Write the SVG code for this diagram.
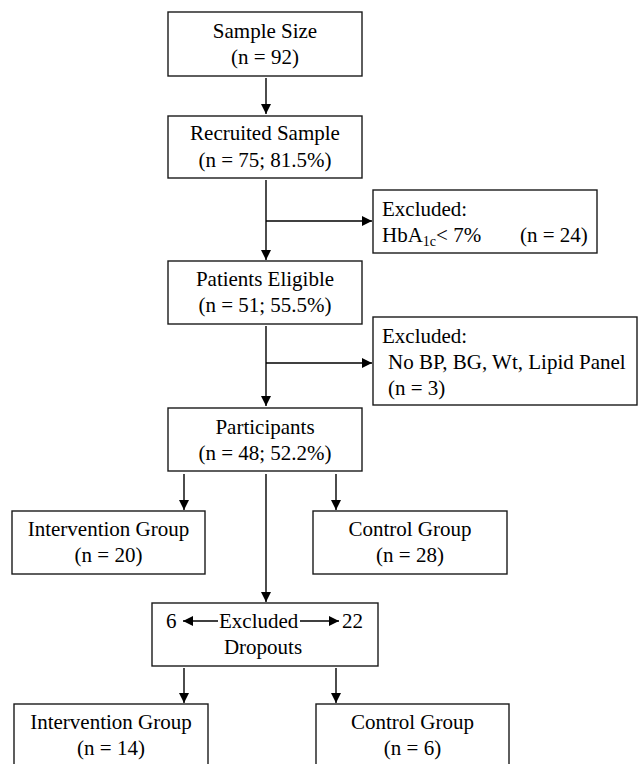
<svg xmlns="http://www.w3.org/2000/svg" width="639" height="764" viewBox="0 0 639 764">
<style>
.box{fill:#fff;stroke:#1a1a1a;stroke-width:1.4}
.t{font-family:"Liberation Serif","Times New Roman",serif;font-size:21px;fill:#000}
.c{text-anchor:middle}
.ln{stroke:#000;stroke-width:1.4;fill:none}
</style>
<defs>
<marker id="ah" viewBox="0 0 10 10" refX="10" refY="5" markerWidth="10" markerHeight="10" markerUnits="userSpaceOnUse" orient="auto">
<path d="M0,0 L10,5 L0,10 Z" fill="#000"/>
</marker>
</defs>
<rect width="639" height="764" fill="#fff"/>
<g id="connectors">
<line class="ln" x1="266" y1="78" x2="266" y2="114" marker-end="url(#ah)"/>
<line class="ln" x1="266" y1="180" x2="266" y2="260" marker-end="url(#ah)"/>
<line class="ln" x1="266" y1="221" x2="372" y2="221" marker-end="url(#ah)"/>
<line class="ln" x1="266" y1="326" x2="266" y2="406" marker-end="url(#ah)"/>
<line class="ln" x1="266" y1="363" x2="372" y2="363" marker-end="url(#ah)"/>
<line class="ln" x1="184" y1="474" x2="184" y2="510" marker-end="url(#ah)"/>
<line class="ln" x1="336" y1="474" x2="336" y2="510" marker-end="url(#ah)"/>
<line class="ln" x1="266" y1="474" x2="266" y2="602" marker-end="url(#ah)"/>
<line class="ln" x1="184" y1="668" x2="184" y2="703" marker-end="url(#ah)"/>
<line class="ln" x1="336" y1="668" x2="336" y2="703" marker-end="url(#ah)"/>
</g>
<g id="sample">
<rect class="box" x="168" y="12" width="194" height="64"/>
<text class="t c" x="265" y="38">Sample Size</text>
<text class="t c" x="265" y="64">(n = 92)</text>
</g>
<g id="recruited">
<rect class="box" x="168" y="116" width="194" height="62"/>
<text class="t c" x="265" y="140">Recruited Sample</text>
<text class="t c" x="265" y="167">(n = 75; 81.5%)</text>
</g>
<g id="excluded1">
<rect class="box" x="373" y="190" width="224" height="63"/>
<text class="t" x="382" y="216">Excluded:</text>
<text class="t" x="382" y="242">HbA<tspan font-size="14" dy="4">1c</tspan><tspan dy="-4">&lt; 7%</tspan></text>
<text class="t" x="520" y="242">(n = 24)</text>
</g>
<g id="eligible">
<rect class="box" x="168" y="261" width="194" height="63"/>
<text class="t c" x="265" y="286">Patients Eligible</text>
<text class="t c" x="265" y="312">(n = 51; 55.5%)</text>
</g>
<g id="excluded2">
<rect class="box" x="373" y="317" width="264" height="88"/>
<text class="t" x="382" y="343">Excluded:</text>
<text class="t" x="388" y="369">No BP, BG, Wt, Lipid Panel</text>
<text class="t" x="388" y="395">(n = 3)</text>
</g>
<g id="participants">
<rect class="box" x="168" y="408" width="194" height="63"/>
<text class="t c" x="265" y="434">Participants</text>
<text class="t c" x="265" y="460">(n = 48; 52.2%)</text>
</g>
<g id="intervention1">
<rect class="box" x="12" y="511" width="193" height="63"/>
<text class="t c" x="108.5" y="536">Intervention Group</text>
<text class="t c" x="108.5" y="562">(n = 20)</text>
</g>
<g id="control1">
<rect class="box" x="313" y="511" width="194" height="63"/>
<text class="t c" x="410" y="536">Control Group</text>
<text class="t c" x="410" y="562">(n = 28)</text>
</g>
<g id="dropouts">
<rect class="box" x="152" y="603" width="226" height="63"/>
<text class="t" x="166" y="628">6</text>
<line class="ln" x1="218" y1="621" x2="183" y2="621" marker-end="url(#ah)"/>
<text class="t" x="219" y="628">Excluded</text>
<line class="ln" x1="300" y1="621" x2="339" y2="621" marker-end="url(#ah)"/>
<text class="t" x="342" y="628">22</text>
<text class="t c" x="263" y="654">Dropouts</text>
</g>
<g id="intervention2">
<rect class="box" x="14" y="704" width="194" height="64"/>
<text class="t c" x="111" y="729">Intervention Group</text>
<text class="t c" x="111" y="755">(n = 14)</text>
</g>
<g id="control2">
<rect class="box" x="316" y="704" width="193" height="64"/>
<text class="t c" x="412.5" y="729">Control Group</text>
<text class="t c" x="412.5" y="755">(n = 6)</text>
</g>
</svg>
